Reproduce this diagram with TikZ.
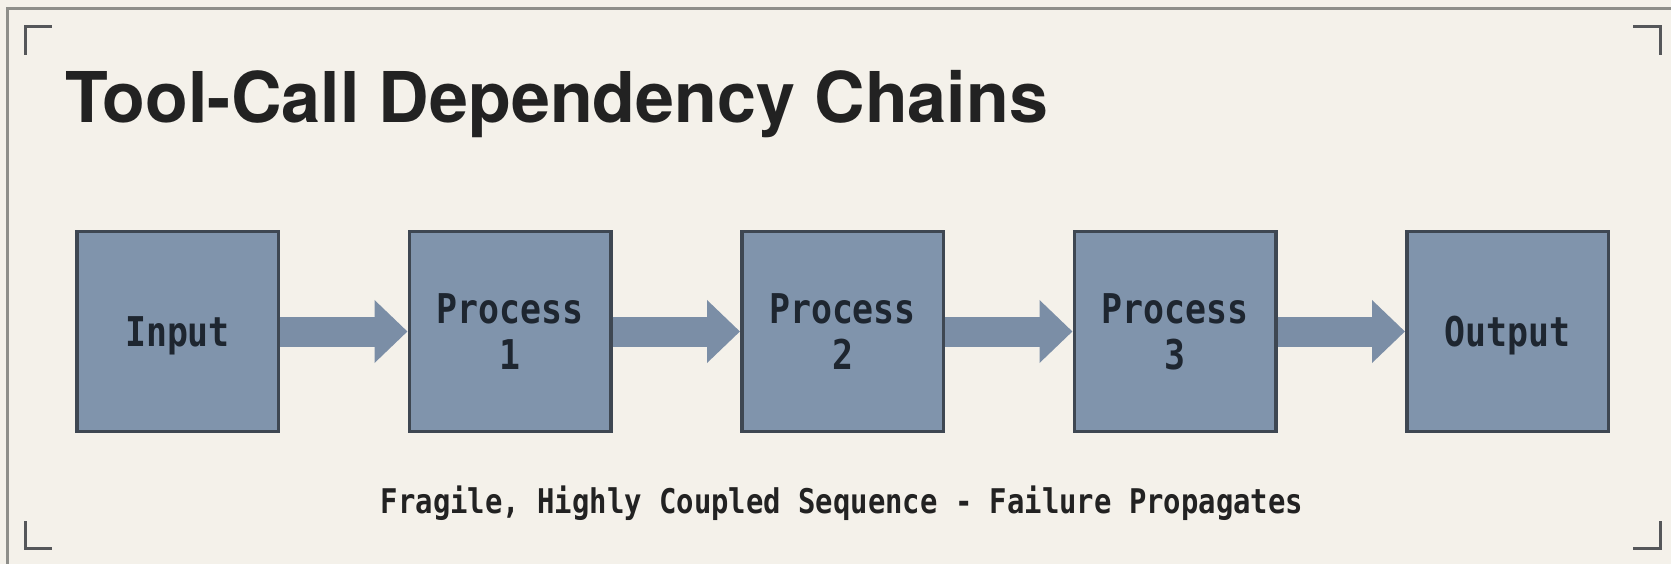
\documentclass[tikz,border=0pt]{standalone}
\usepackage{fontspec}
\setsansfont{TeX Gyre Heros}
\newfontfamily\chainmono[FakeStretch=0.85]{DejaVu Sans Mono}
\usepackage{xcolor}
\usepackage{tikz}
\usetikzlibrary{positioning,shapes,arrows.meta,calc}

\definecolor{paper}{HTML}{F4F1EA}
\definecolor{frameline}{HTML}{8E8E8A}
\definecolor{cornerline}{HTML}{55575A}
\definecolor{boxfill}{HTML}{8094AC}
\definecolor{boxline}{HTML}{3E4752}
\definecolor{flowfill}{HTML}{7B8EA6}
\definecolor{inktext}{HTML}{1E2630}
\definecolor{titleink}{HTML}{222222}

\begin{document}
\begin{tikzpicture}[x=1pt, y=-1pt, node distance=332.5pt,
    stage/.style={draw=boxline, line width=3.5pt, fill=boxfill, rectangle, minimum width=201.5pt, minimum height=199.5pt, align=center, text=inktext, text depth=0pt, font=\chainmono\bfseries\fontsize{41}{46}\selectfont},
    flow/.style={flowfill, line width=30pt, -{Triangle[width=61pt,length=33pt]}},
    corner/.style={cornerline, line width=3pt}]
    \useasboundingbox (0,0) rectangle (1671,564);
    \fill[paper] (0,0) rectangle (1671,564);
    % outer frame runs off the right and bottom edges
    \draw[frameline, line width=3pt] (7.5,570) -- (7.5,9) -- (1680,9);
    \draw[corner] (25,55) -- (25,27) -- (52,27);
    \draw[corner] (1633,27) -- (1660,27) -- (1660,55);
    \draw[corner] (25,521) -- (25,548) -- (52,548);
    \draw[corner] (1633,548) -- (1660,548) -- (1660,521);

    \node[anchor=base west, inner sep=0pt, text=titleink, font=\sffamily\bfseries\fontsize{70}{72}\selectfont] (title) at (65,123) {Tool-Call Dependency Chains};

    \node[stage] (input) at (177.5,331.5) {Input};
    \node[stage, right of=input] (proc1) {Process\\1};
    \node[stage, right of=proc1] (proc2) {Process\\2};
    \node[stage, right of=proc2] (proc3) {Process\\3};
    \node[stage, right of=proc3] (output) {Output};

    \draw[flow] (input) -- (proc1);
    \draw[flow] (proc1) -- (proc2);
    \draw[flow] (proc2) -- (proc3);
    \draw[flow] (proc3) -- (output);

    \node[anchor=base, inner sep=0pt, text=titleink, font=\chainmono\bfseries\fontsize{34}{36}\selectfont] (note) at (842,513) {Fragile, Highly Coupled Sequence - Failure Propagates};
\end{tikzpicture}
\end{document}
